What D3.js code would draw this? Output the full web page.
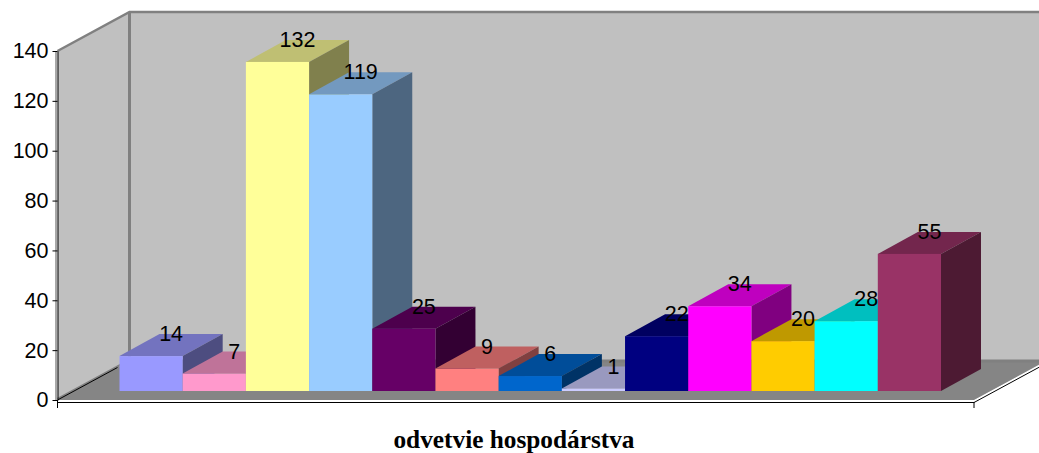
<!DOCTYPE html>
<html>
<head>
<meta charset="utf-8">
<style>
html, body { margin: 0; padding: 0; background: #fff; overflow: hidden; }
svg { display: block; }
</style>
</head>
<body>
<div id="main-chart"></div>
<script src="https://cdn.jsdelivr.net/npm/d3@7"></script>
<script>
const categories = ["1", "2", "3", "4", "5", "6", "7", "8", "9", "10", "11", "12", "13"];
const values = [14, 7, 132, 119, 25, 9, 6, 1, 22, 34, 20, 28, 55];
const barColors = ["#9999ff", "#ff99cc", "#ffff99", "#99ccff", "#660066", "#ff8080", "#0066cc",
    "#ccccff", "#000080", "#ff00ff", "#ffcc00", "#00ffff", "#993366"];
const yTicks = [0, 20, 40, 60, 80, 100, 120, 140];
const xTitle = "odvetvie hospodárstva";

const width = 1039, height = 453;
const svg = d3.select("#main-chart").append("svg")
    .attr("width", width)
    .attr("height", height);

const y = d3.scaleLinear().domain([0, 140]).range([400, 51]);
const x = d3.scaleBand().domain(categories).range([119.5, 941]);

// the fake 3d: how far back the walls and each bar go
const wallDx = 72, wallDy = -39;
const barDx = 40, barDy = -22;
const barBase = 9; // bars stand a bit in front of the floor edge
const x0 = 57.5, x1 = 974;

const line = d3.line();
const poly = pts => line(pts) + "Z";

// left wall, back wall, floor
svg.append("path")
    .attr("d", poly([[x0, y(140)], [x0 + wallDx, y(140) + wallDy], [x0 + wallDx, y(0) + wallDy], [x0, y(0)]]))
    .attr("fill", "#c0c0c0");
svg.append("path")
    .attr("d", poly([[x0 + wallDx, y(140) + wallDy], [x1 + wallDx, y(140) + wallDy], [x1 + wallDx, y(0) + wallDy], [x0 + wallDx, y(0) + wallDy]]))
    .attr("fill", "#c0c0c0");
svg.append("path")
    .attr("d", poly([[x0, y(0)], [x1, y(0)], [x1 + wallDx, y(0) + wallDy], [x0 + wallDx, y(0) + wallDy]]))
    .attr("fill", "#858585");

// wall edges
svg.append("path")
    .attr("d", line([[x0, y(140)], [x0 + wallDx, y(140) + wallDy], [x1 + wallDx, y(140) + wallDy]]))
    .attr("fill", "none").attr("stroke", "#808080").attr("stroke-width", 2.5);
svg.append("path")
    .attr("d", line([[x0 + wallDx, y(140) + wallDy], [x0 + wallDx, y(0) + wallDy], [x1 + wallDx, y(0) + wallDy]]))
    .attr("fill", "none").attr("stroke", "#808080").attr("stroke-width", 3);
svg.append("path")
    .attr("d", line([[x0 - 1.5, y(140)], [x0 - 1.5, y(0)]]))
    .attr("fill", "none").attr("stroke", "#a8a8a8").attr("stroke-width", 2);
svg.append("path")
    .attr("d", line([[x0, y(0) - 1], [x0 + wallDx, y(0) + wallDy - 1]]))
    .attr("fill", "none").attr("stroke", "#808080").attr("stroke-width", 2);

// bars
const bars = categories.map((c, i) => ({ c, v: values[i], color: barColors[i] }));
const bar = svg.selectAll("g.bar").data(bars).enter().append("g").attr("class", "bar");

const yBase = y(0) - barBase;
const yTop = d => y(d.v) - barBase;

bar.append("path") // top
    .attr("d", d => {
        const l = x(d.c), r = l + x.bandwidth();
        return poly([[l, yTop(d)], [r, yTop(d)], [r + barDx, yTop(d) + barDy], [l + barDx, yTop(d) + barDy]]);
    })
    .attr("fill", d => shade(d.color, 0.75));
bar.append("path") // side
    .attr("d", d => {
        const r = x(d.c) + x.bandwidth();
        return poly([[r, yTop(d)], [r + barDx, yTop(d) + barDy], [r + barDx, yBase + barDy], [r, yBase]]);
    })
    .attr("fill", d => shade(d.color, 0.5));
bar.append("rect") // front
    .attr("x", d => x(d.c))
    .attr("y", d => yTop(d))
    .attr("width", x.bandwidth())
    .attr("height", d => yBase - yTop(d))
    .attr("fill", d => d.color);

function shade(c, k) {
    const col = d3.rgb(c);
    return d3.rgb(col.r * k, col.g * k, col.b * k).formatHex();
}

// value labels go on top of every bar
svg.selectAll("text.label").data(bars).enter().append("text")
    .attr("class", "label")
    .attr("x", d => x(d.c) + x.bandwidth() / 2 + barDx / 2)
    .attr("y", d => yTop(d) + barDy + 7)
    .attr("text-anchor", "middle")
    .attr("font-family", "Liberation Sans, Arial, sans-serif")
    .attr("font-size", 21.5)
    .attr("fill", "#000")
    .text(d => d.v);

// front floor edges
svg.append("path")
    .attr("d", line([[x0, y(0) + 1.5], [x1, y(0) + 1.5], [x1 + wallDx, y(0) + wallDy + 1.5]]))
    .attr("fill", "none").attr("stroke", "#fff").attr("stroke-width", 1.5);
svg.append("path")
    .attr("d", line([[x0, y(0) + 2.5], [x1, y(0) + 2.5], [x1 + wallDx, y(0) + wallDy + 2.5]]))
    .attr("fill", "none").attr("stroke", "#000").attr("stroke-width", 1);
svg.append("path")
    .attr("d", line([[x0, y(0)], [x0 + 60, y(0) - 32.5]]))
    .attr("fill", "none").attr("stroke", "#000").attr("stroke-width", 1);
svg.append("path")
    .attr("d", line([[x0, y(0)], [x0, y(0) + 8]]))
    .attr("fill", "none").attr("stroke", "#000");
svg.append("path")
    .attr("d", line([[x1, y(0) + 2], [x1, y(0) + 8]]))
    .attr("fill", "none").attr("stroke", "#000");

// y axis
const axis = svg.append("g")
    .attr("transform", `translate(${x0},0)`)
    .call(d3.axisLeft(y).tickValues(yTicks).tickSize(5).tickSizeOuter(0).tickPadding(4));
axis.selectAll("path, line").attr("stroke", "#000");
axis.selectAll("text")
    .attr("font-family", "Liberation Sans, Arial, sans-serif")
    .attr("font-size", 21.5)
    .attr("fill", "#000");

svg.append("text")
    .attr("x", 514)
    .attr("y", 448)
    .attr("text-anchor", "middle")
    .attr("font-family", "Liberation Serif, Times New Roman, serif")
    .attr("font-weight", "bold")
    .attr("font-size", 25.3)
    .attr("fill", "#000")
    .text(xTitle);
</script>
</body>
</html>
